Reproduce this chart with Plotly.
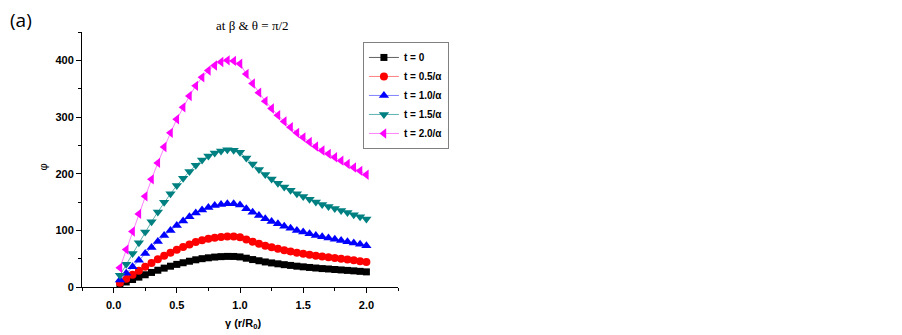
import plotly.graph_objects as go

gamma = [0.05, 0.10, 0.15, 0.20, 0.25, 0.30, 0.35, 0.40, 0.45, 0.50,
         0.55, 0.60, 0.65, 0.70, 0.75, 0.80, 0.85, 0.90, 0.95, 1.00,
         1.05, 1.10, 1.15, 1.20, 1.25, 1.30, 1.35, 1.40, 1.45, 1.50,
         1.55, 1.60, 1.65, 1.70, 1.75, 1.80, 1.85, 1.90, 1.95, 2.00]

phi_t0 = [4.6, 8.9, 13.2, 17.4, 21.6, 25.7, 29.6, 33.3, 36.7, 39.9,
          42.8, 45.5, 48.0, 50.0, 51.5, 52.8, 53.6, 54.0, 53.9, 53.1,
          50.8, 48.4, 46.3, 44.2, 42.5, 40.9, 39.4, 38.1, 36.7, 35.6,
          34.5, 33.5, 32.5, 31.8, 30.9, 30.1, 29.3, 28.5, 27.6, 26.7]

phi_t05 = [7.6, 14.7, 21.7, 28.7, 35.7, 42.4, 48.8, 55.0, 60.5, 65.9,
           70.7, 75.1, 79.2, 82.5, 85.0, 87.1, 88.4, 89.1, 88.9, 87.6,
           83.8, 79.9, 76.4, 73.0, 70.1, 67.5, 65.0, 62.8, 60.5, 58.8,
           57.0, 55.2, 53.7, 52.4, 51.0, 49.7, 48.4, 47.0, 45.6, 44.1]

phi_t10 = [12.5, 24.3, 35.8, 47.4, 58.9, 69.9, 80.5, 90.8, 99.9, 108.7,
           116.6, 123.9, 130.6, 136.1, 140.3, 143.7, 145.8, 147.0, 146.7, 144.6,
           138.2, 131.8, 126.1, 120.5, 115.7, 111.4, 107.3, 103.6, 99.9, 97.0,
           94.1, 91.1, 88.6, 86.4, 84.1, 82.0, 79.8, 77.5, 75.3, 72.8]

phi_t15 = [20.6, 40.0, 59.0, 78.0, 97.0, 115.0, 132.5, 149.4, 164.5, 179.0,
           192.0, 204.0, 215.0, 224.0, 231.0, 236.5, 240.0, 242.0, 241.4, 238.0,
           227.5, 217.0, 207.5, 198.4, 190.5, 183.3, 176.6, 170.6, 164.5, 159.7,
           154.9, 150.0, 145.8, 142.2, 138.5, 134.9, 131.3, 127.6, 124.0, 119.8]

phi_t20 = [34, 66, 98, 129, 160, 190, 219, 247, 272, 296,
           317, 337, 355, 370, 382, 391, 397, 400, 399, 394,
           376, 359, 343, 328, 315, 303, 292, 282, 272, 264,
           256, 248, 241, 235, 229, 223, 217, 211, 205, 198]

series_names = ["t = 0", "t = 0.5/α", "t = 1.0/α", "t = 1.5/α", "t = 2.0/α"]
series_values = [phi_t0, phi_t05, phi_t10, phi_t15, phi_t20]

marker_colors = ["#000000", "#ff0000", "#0000ff", "#008080", "#ff00ff"]
line_colors = ["#606060", "#ff8080", "#8080ff", "#60b0b0", "#ff80ff"]
symbols = ["square", "circle", "triangle-up", "triangle-down", "triangle-left"]
sizes = [7, 8, 9, 9, 9]

fig = go.Figure()
for name, vals, mc, lc, sym, sz in zip(series_names, series_values, marker_colors,
                                       line_colors, symbols, sizes):
    fig.add_trace(go.Scatter(
        x=gamma, y=vals, name=name, mode="lines+markers",
        line=dict(color=lc, width=1),
        marker=dict(symbol=sym, size=sz, color=mc, line=dict(width=0)),
    ))

axis_font = dict(family="Liberation Sans, Arial", size=11, color="black", weight="bold")

# The page adds an 8px body margin, so the figure is sized/offset to compensate.
fig.update_layout(
    width=894, height=327,
    margin=dict(l=74, r=504, t=24, b=48),
    paper_bgcolor="white", plot_bgcolor="white",
    showlegend=True,
    legend=dict(
        x=0.889, y=0.961, xanchor="left", yanchor="top",
        bgcolor="white", bordercolor="#808080", borderwidth=1,
        font=dict(family="Liberation Sans, Arial", size=10, color="black", weight="bold"),
        tracegroupgap=0, itemwidth=30,
    ),
    xaxis=dict(
        range=[-0.25, 2.25], tick0=0, dtick=0.5, tickformat=".1f",
        showline=True, linecolor="black", linewidth=1, showgrid=False, zeroline=False,
        ticks="outside", ticklen=5, tickcolor="black", tickwidth=1,
        ticklabelstandoff=3,
        minor=dict(dtick=0.25, tick0=0, ticks="outside", ticklen=3, tickcolor="black", showgrid=False),
        tickfont=axis_font,
    ),
    yaxis=dict(
        range=[0, 450], tick0=0, dtick=100,
        showline=True, linecolor="black", linewidth=1, showgrid=False, zeroline=False,
        ticks="outside", ticklen=5, tickcolor="black", tickwidth=1,
        minor=dict(dtick=50, tick0=0, ticks="outside", ticklen=3, tickcolor="black", showgrid=False),
        tickfont=axis_font,
    ),
    annotations=[
        dict(text="(a)", x=-0.234, y=1.047, xref="paper", yref="paper",
             xanchor="left", yanchor="middle", showarrow=False,
             font=dict(family="Open Sans, Liberation Sans", size=19, color="black")),
        dict(text="at β &amp; θ = π/2", x=0.538, y=1.027, xref="paper", yref="paper",
             xanchor="center", yanchor="middle", showarrow=False,
             font=dict(family="Liberation Serif, Times New Roman", size=13, color="black")),
        dict(text="φ", x=-0.122, y=0.47, xref="paper", yref="paper",
             xanchor="center", yanchor="middle", showarrow=False, textangle=-90,
             font=dict(family="Liberation Sans, Arial", size=11, color="black")),
        dict(text="γ (r/R<sub>0</sub>)", x=0.51, y=-0.147, xref="paper", yref="paper",
             xanchor="center", yanchor="middle", showarrow=False,
             font=dict(family="Liberation Sans, Arial", size=11, color="black", weight="bold")),
    ],
)

fig.write_html("out.html")
